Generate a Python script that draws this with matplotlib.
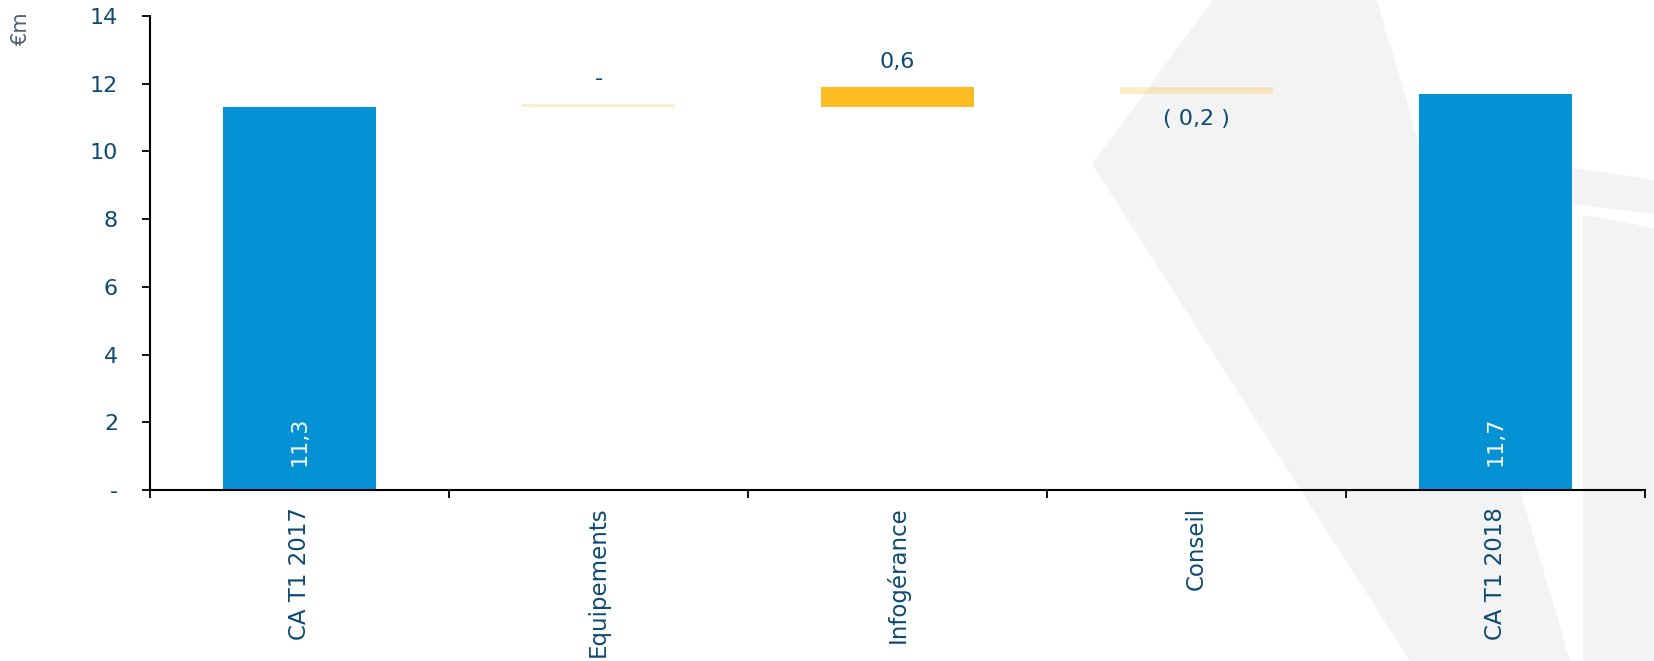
import matplotlib
matplotlib.use("Agg")
import matplotlib.pyplot as plt
from matplotlib.patches import Polygon
from matplotlib.ticker import FixedLocator

# data
categories = ["CA T1 2017", "Equipements", "Infogérance", "Conseil", "CA T1 2018"]
start_total = 11.3
end_total = 11.7
deltas = [0.0, 0.6, -0.2]          # Equipements, Infogérance, Conseil
delta_labels = ["-", "0,6", "( 0,2 )"]
total_labels = ["11,3", "11,7"]
yticks = [0, 2, 4, 6, 8, 10, 12, 14]
ytick_labels = ["-", "2", "4", "6", "8", "10", "12", "14"]

BLUE = "#0592d4"
YELLOW = "#fbbd21"
NAVY = "#0e4a72"
W, H = 1654, 661

fig = plt.figure(figsize=(W / 100, H / 100), dpi=100)
fig.patch.set_facecolor("white")


def px(points):
    # pixel coords (top-left origin) -> figure fraction
    return [(x / W, 1 - y / H) for x, y in points]


# decorative grey shapes in the background
bg_shapes = [
    [(1213, 0), (1377, 0), (1570, 661), (1410, 661), (1092, 164)],
    [(1500, 157), (1654, 180), (1654, 214), (1500, 195)],
    [(1583, 215), (1654, 228), (1654, 661), (1583, 661)],
]
for shp in bg_shapes:
    fig.patches.append(Polygon(px(shp), closed=True, transform=fig.transFigure,
                               facecolor="#f3f3f3", edgecolor="none", zorder=-5))

ax = fig.add_axes([150 / W, (H - 490) / H, (1645 - 150) / W, (490 - 16) / H])
ax.set_facecolor("none")

bar_w = 0.51
x = list(range(len(categories)))

# totals
ax.bar([0, 4], [start_total, end_total], width=bar_w, color=BLUE, zorder=2)
for xi, lab in zip([0, 4], total_labels):
    ax.text(xi, 0.72, lab, rotation=90, ha="center", va="bottom",
            color="white", fontsize=16, zorder=3)

# changes
level = start_total
for i, (d, lab) in enumerate(zip(deltas, delta_labels)):
    xi = i + 1
    h = d if abs(d) > 0.05 else 0.09
    alpha = 1.0 if d > 0.05 else 0.25
    ax.bar(xi, h, bottom=level, width=bar_w, color=YELLOW, alpha=alpha,
           edgecolor="none", zorder=2)
    top = max(level, level + h)
    bot = min(level, level + h)
    if d < -0.05:
        ax.annotate(lab, (xi, bot), xytext=(0, -11), textcoords="offset points",
                    ha="center", va="top", color=NAVY, fontsize=16)
    else:
        ax.annotate(lab, (xi, top), xytext=(0, 11), textcoords="offset points",
                    ha="center", va="bottom", color=NAVY, fontsize=16)
    level += d

ax.set_xlim(-0.5, len(categories) - 0.5)
ax.set_ylim(0, 14)

ax.set_yticks(yticks)
ax.set_yticklabels(ytick_labels, color=NAVY, fontsize=16)
ax.tick_params(axis="y", length=6, width=1.3, pad=17, color="black")

ax.set_xticks(x)
ax.set_xticklabels(categories, rotation=90, color=NAVY, fontsize=16.5, va="top")
ax.tick_params(axis="x", which="major", length=0, pad=12)
ax.xaxis.set_minor_locator(FixedLocator([i - 0.5 for i in range(len(categories) + 1)]))
ax.tick_params(axis="x", which="minor", length=6, width=1.3, color="black")

for s in ["top", "right"]:
    ax.spines[s].set_visible(False)
for s in ["left", "bottom"]:
    ax.spines[s].set_linewidth(1.5)
    ax.spines[s].set_color("black")

fig.text(21 / W, 1 - 28 / H, "€m", rotation=90, ha="center", va="center",
         color="#4f6070", fontsize=15)

fig.savefig("out.png", dpi=100, facecolor="white")
